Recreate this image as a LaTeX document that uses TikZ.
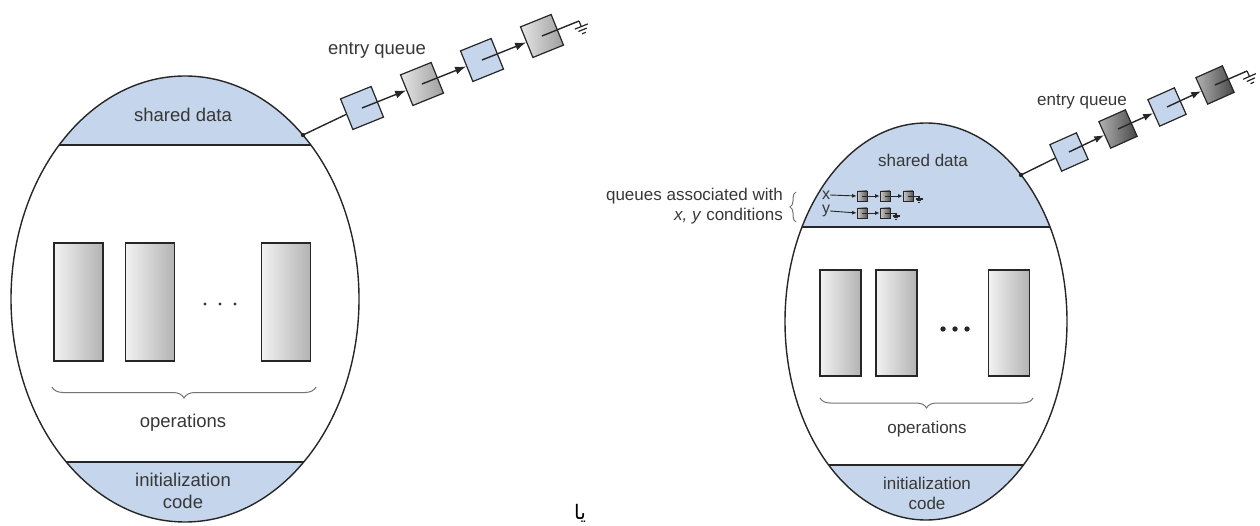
\documentclass[tikz,border=0pt]{standalone}
\usepackage{fontspec}
\setmainfont{Liberation Sans}
\newfontfamily\arabicfont[Script=Arabic]{DejaVu Sans}
\TeXXeTstate=1
\definecolor{qblue}{RGB}{197, 214, 236}
\definecolor{txtgray}{RGB}{55, 55, 55}
\usetikzlibrary{arrows.meta, decorations.pathreplacing}

\begin{document}
\begin{tikzpicture}[x=1pt, y=-1pt,
    edge/.style={draw=black!85, line width=1.4pt},
    lbl/.style={text=txtgray, inner sep=0pt, align=center, font=\fontsize{18.5}{22}\selectfont},
    rlbl/.style={lbl, font=\fontsize{17}{20}\selectfont},
    opbox/.style={draw=black!85, line width=1.3pt, minimum width=49pt, minimum height=118pt,
        inner sep=0pt, left color=gray!10, right color=gray!60},
    ropbox/.style={opbox, minimum width=41pt, minimum height=106pt},
    qbox/.style={draw=black!85, line width=1.2pt, inner sep=0pt, minimum size=33pt},
    rqbox/.style={qbox, minimum size=29pt},
    sbox/.style={draw=black!85, line width=0.8pt, inner sep=0pt, minimum size=10pt,
        left color=black!20, right color=black!65},
    brc/.style={decorate, draw=black!55, line width=1pt},
    nullend/.pic={\draw[black!85, line width=1.2pt] (0,0) -- (0,6) (-7,6) -- (7,6)
        (-4.5,9.5) -- (4.5,9.5) (-2,13) -- (2,13);}
]
\useasboundingbox (0,0) rectangle (1260,526);

% ---------- left monitor ----------
\begin{scope}
    \clip (185,299) ellipse (174 and 223);
    \fill[qblue] (0,0) rectangle (400,145);
    \fill[qblue] (0,462) rectangle (400,540);
    \draw[edge] (0,145) -- (400,145) (0,462) -- (400,462);
\end{scope}
\draw[edge] (185,299) ellipse (174 and 223);

\node[lbl] (lshared) at (183,115) {shared data};
\node[lbl] (linit) at (183,491) {initialization\\code};
\node[lbl] (lops) at (183,423) {operations};

% operations
\node[opbox] (lop1) at (78.5,302) {};
\node[opbox] (lop2) at (150,302) {};
\node[opbox] (lop3) at (286,302) {};
\foreach \x in {205,220,235} {
    \fill[black!80] (\x,304) circle (1.7);
}
\draw[brc, decoration={brace, mirror, amplitude=11pt}] (52,387) -- (316,387);

% entry queue
\node[lbl] (lentry) at (377,50) {entry queue};
\coordinate (lq) at (303,135);
\fill[black!85] (lq) circle (2.2);
\node[qbox, rotate=22, fill=qblue] (lb1) at (362,108) {};
\node[qbox, rotate=22, left color=black!10, right color=black!38] (lb2) at (422,84) {};
\node[qbox, rotate=22, fill=qblue] (lb3) at (482,60) {};
\node[qbox, rotate=22, left color=black!10, right color=black!38] (lb4) at (542,36) {};
\draw[edge] (lq) -- (lb1.west);
\foreach \a/\b in {lb1/lb2, lb2/lb3, lb3/lb4} {
    \draw[edge, -{Latex[length=11pt, width=8pt]}] (\a.center) -- (\b.west);
}
\coordinate (lgnd) at (579,21);
\draw[edge] (lb4.center) -- (lgnd);
\pic[rotate=22] at (lgnd) {nullend};

% ---------- right monitor ----------
\begin{scope}
    \clip (926,321.5) ellipse (141 and 198.5);
    \fill[qblue] (760,100) rectangle (1100,227);
    \fill[qblue] (760,465) rectangle (1100,540);
    \draw[edge] (760,227) -- (1100,227) (760,465) -- (1100,465);
\end{scope}
\draw[edge] (926,321.5) ellipse (141 and 198.5);

\node[rlbl] (rshared) at (923,160) {shared data};
\node[rlbl] (rinit) at (927,493) {initialization\\code};
\node[rlbl] (rops) at (927,429) {operations};

% operations
\node[ropbox] (rop1) at (840.5,323) {};
\node[ropbox] (rop2) at (896.5,323) {};
\node[ropbox, fill=black!20] (rop3) at (1009,323) {};
\foreach \x in {943,955,967} {
    \fill[black!85] (\x,329) circle (2.7);
}
\draw[brc, decoration={brace, mirror, amplitude=10pt}] (820,398) -- (1033,398);

% condition queues
\node[rlbl, align=right, anchor=east] (rcond) at (783,206.5)
    {queues associated with\\\textit{x, y} conditions};
\draw[brc, decoration={brace, amplitude=6pt}] (796,222) -- (796,192);
\node[rlbl, font=\fontsize{16}{18}\selectfont] (xl) at (826,195) {x};
\node[rlbl, font=\fontsize{16}{18}\selectfont] (yl) at (826,211) {y};
\node[sbox] (xb1) at (862,196) {};
\node[sbox] (xb2) at (885,196) {};
\node[sbox] (xb3) at (908,196) {};
\node[sbox] (yb1) at (862,213) {};
\node[sbox] (yb2) at (885,213) {};
\foreach \a/\b in {xl/xb1, yl/yb1} {
    \draw[black!85, line width=0.9pt, -{Latex[length=4.5pt, width=4pt]}] (\a.east) -- (\b.west);
}
\foreach \a/\b in {xb1/xb2, xb2/xb3, yb1/yb2} {
    \draw[black!85, line width=0.9pt, -{Latex[length=4.5pt, width=4pt]}] (\a.center) -- (\b.west);
}
\coordinate (xgnd) at (919,196);
\coordinate (ygnd) at (896,213);
\draw[black!85, line width=0.9pt] (xb3.center) -- (xgnd);
\draw[black!85, line width=0.9pt] (yb2.center) -- (ygnd);
\pic[scale=0.5] at (xgnd) {nullend};
\pic[scale=0.5] at (ygnd) {nullend};

% entry queue
\node[rlbl] (rentry) at (1082,102) {entry queue};
\coordinate (rq) at (1021,175);
\fill[black!85] (rq) circle (2.2);
\node[rqbox, rotate=24, fill=qblue] (rb1) at (1069,152) {};
\node[rqbox, rotate=24, left color=black!30, right color=black!72] (rb2) at (1118,129) {};
\node[rqbox, rotate=24, fill=qblue] (rb3) at (1167,107) {};
\node[rqbox, rotate=24, left color=black!30, right color=black!72] (rb4) at (1215,85) {};
\draw[edge] (rq) -- (rb1.west);
\foreach \a/\b in {rb1/rb2, rb2/rb3, rb3/rb4} {
    \draw[edge, -{Latex[length=10pt, width=7pt]}] (\a.center) -- (\b.west);
}
\coordinate (rgnd) at (1247,71);
\draw[edge] (rb4.center) -- (rgnd);
\pic[rotate=24] at (rgnd) {nullend};

% stray mark at the bottom
\node[font=\arabicfont\fontsize{20}{22}\selectfont] (mark) at (580,513) {\beginR يا\endR};
\end{tikzpicture}
\end{document}
